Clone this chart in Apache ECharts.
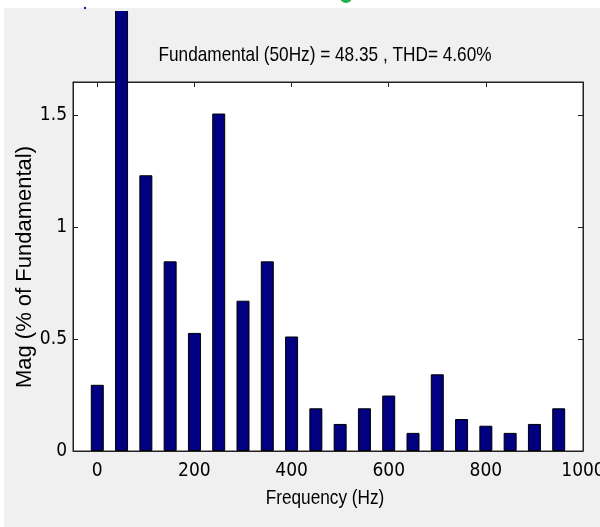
<!DOCTYPE html>
<html>
<head>
<meta charset="utf-8">
<script src="https://cdn.jsdelivr.net/npm/echarts@6/dist/echarts.min.js"></script>
<style>
html,body{margin:0;padding:0;background:#ffffff;}
#chart{width:600px;height:527px;}
</style>
</head>
<body>
<div id="chart"></div>
<script>
// Harmonic frequencies (Hz)
var frequencies = [0, 50, 100, 150, 200, 250, 300, 350, 400, 450, 500, 550, 600, 650, 700, 750, 800, 850, 900, 950];
// Magnitudes (% of fundamental)
var magnitudes = [0.296, 100, 1.233, 0.848, 0.528, 1.509, 0.672, 0.848, 0.512, 0.191, 0.121, 0.191, 0.248, 0.081, 0.343, 0.143, 0.113, 0.081, 0.121, 0.191];
var xTickValues = [0, 200, 400, 600, 800, 1000];
var titleText = 'Fundamental (50Hz) = 48.35 , THD= 4.60%';
var xName = 'Frequency (Hz)';
var yName = 'Mag (% of Fundamental)';

var condensed = "'DejaVu Sans Condensed', 'Liberation Sans Narrow', sans-serif";
var arial = "'Liberation Sans', Arial, sans-serif";
var axisCol = '#222222';

var barData = frequencies.map(function (f, i) { return [f, magnitudes[i]]; });

var chart = echarts.init(document.getElementById('chart'), null, {renderer: 'canvas'});
chart.setOption({
  backgroundColor: '#f0f0f0',
  animation: false,
  grid: {
    left: 73, right: 17, top: 82, bottom: 76,
    outerBoundsMode: 'none', containLabel: false,
    show: true, backgroundColor: '#ffffff', borderColor: axisCol, borderWidth: 1
  },
  xAxis: [{
    type: 'value', min: -50, max: 1000, position: 'bottom',
    axisLine: {show: true, onZero: false, lineStyle: {color: axisCol, width: 1}},
    axisTick: {show: true, inside: true, length: 5, customValues: xTickValues, lineStyle: {color: axisCol}},
    axisLabel: {show: true, customValues: xTickValues, margin: 11, fontFamily: condensed, fontSize: 19, color: '#000',
      formatter: function (v) { return String(v); }},
    splitLine: {show: false}
  }, {
    type: 'value', min: -50, max: 1000, position: 'top',
    axisLine: {show: true, onZero: false, lineStyle: {color: axisCol, width: 1}},
    axisTick: {show: true, inside: true, length: 5, customValues: xTickValues, lineStyle: {color: axisCol}},
    axisLabel: {show: false},
    splitLine: {show: false}
  }],
  yAxis: [{
    type: 'value', min: 0, max: 1.65, interval: 0.5, position: 'left',
    axisLine: {show: true, onZero: false, lineStyle: {color: axisCol, width: 1}},
    axisTick: {show: true, inside: true, length: 5, lineStyle: {color: axisCol}},
    axisLabel: {show: true, margin: 6, fontFamily: condensed, fontSize: 19, color: '#000', showMaxLabel: false},
    splitLine: {show: false}
  }, {
    type: 'value', min: 0, max: 1.65, interval: 0.5, position: 'right',
    axisLine: {show: true, onZero: false, lineStyle: {color: axisCol, width: 1}},
    axisTick: {show: true, inside: true, length: 5, lineStyle: {color: axisCol}},
    axisLabel: {show: false},
    splitLine: {show: false}
  }],
  series: [{
    type: 'bar',
    xAxisIndex: 0, yAxisIndex: 0,
    data: barData,
    barWidth: 13,
    clip: false,
    itemStyle: {color: '#000080', borderColor: '#000000', borderWidth: 1}
  }],
  graphic: [
    {type: 'rect', z: 100, shape: {x: 0, y: 0, width: 600, height: 8}, style: {fill: '#ffffff'}},
    {type: 'rect', z: 100, shape: {x: 0, y: 8, width: 600, height: 3}, style: {fill: '#f0f0f0'}},
    {type: 'rect', z: 101, shape: {x: 0, y: 0, width: 4, height: 527}, style: {fill: '#ffffff'}},
    {type: 'circle', z: 102, shape: {cx: 85, cy: 8, r: 1.2}, style: {fill: '#1a1acc'}},
    {type: 'circle', z: 102, shape: {cx: 346, cy: -3, r: 6}, style: {fill: '#22b04a'}},
    {type: 'text', z: 103, x: 325, y: 55, scaleX: 0.82,
      style: {text: titleText, font: '21px ' + arial, fill: '#000', textAlign: 'center', textVerticalAlign: 'middle'}},
    {type: 'text', z: 103, x: 325, y: 498, scaleX: 0.82,
      style: {text: xName, font: '21px ' + arial, fill: '#000', textAlign: 'center', textVerticalAlign: 'middle'}},
    {type: 'text', z: 103, x: 25, y: 267, rotation: Math.PI / 2,
      style: {text: yName, font: '22px ' + arial, fill: '#000', textAlign: 'center', textVerticalAlign: 'middle'}}
  ]
});
</script>
</body>
</html>
